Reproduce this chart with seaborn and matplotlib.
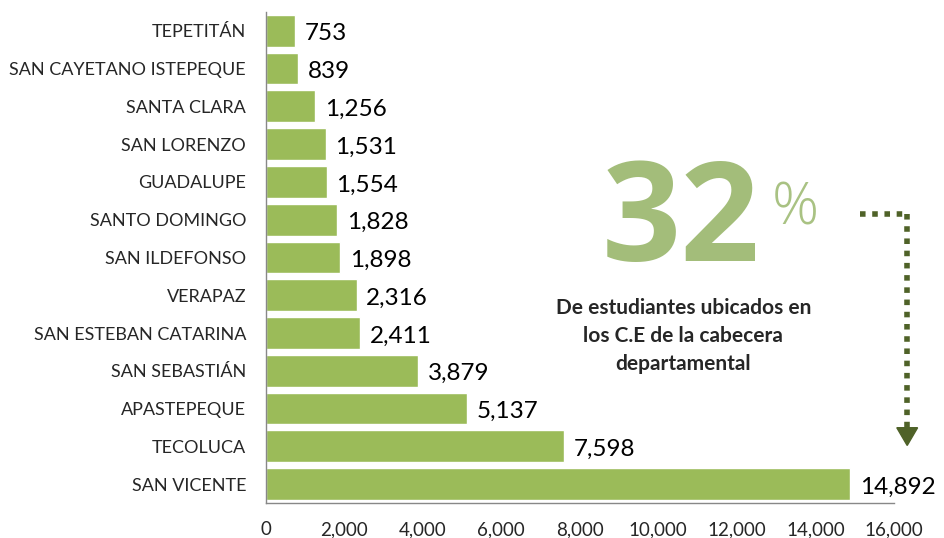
import numpy as np
import pandas as pd
import matplotlib.pyplot as plt
import seaborn as sns
from matplotlib.ticker import FuncFormatter, FixedLocator

# data
municipios = ['TEPETITÁN', 'SAN CAYETANO ISTEPEQUE', 'SANTA CLARA', 'SAN LORENZO',
              'GUADALUPE', 'SANTO DOMINGO', 'SAN ILDEFONSO', 'VERAPAZ',
              'SAN ESTEBAN CATARINA', 'SAN SEBASTIÁN', 'APASTEPEQUE', 'TECOLUCA',
              'SAN VICENTE']
estudiantes = [753, 839, 1256, 1531, 1554, 1828, 1898, 2316, 2411, 3879, 5137, 7598, 14892]
x_ticks = [0, 2000, 4000, 6000, 8000, 10000, 12000, 14000, 16000]

df = pd.DataFrame({'municipio': municipios, 'estudiantes': estudiantes})

sns.set_style('white')
plt.rcParams['font.family'] = ['Lato', 'DejaVu Sans']

fig = plt.figure(figsize=(9.45, 5.38), dpi=100)
ax = fig.add_axes([0.281, 0.065, 0.665, 0.913])

sns.barplot(data=df, x='estudiantes', y='municipio', order=municipios,
            color='#9BBB59', saturation=1, width=0.84,
            edgecolor='white', linewidth=1, ax=ax)

# value labels
for i, v in enumerate(estudiantes):
    ax.text(v + 250, i + 0.08, f'{v:,}', va='center', ha='left', fontsize=17.5, color='black')

ax.set_xlim(0, 16000)
ax.set_ylim(len(municipios) - 0.5, -0.5)
ax.xaxis.set_major_locator(FixedLocator(x_ticks))
ax.xaxis.set_major_formatter(FuncFormatter(lambda v, p: f'{int(v):,}'))
ax.set_xlabel('')
ax.set_ylabel('')
ax.tick_params(axis='x', labelsize=13.5, length=5, width=1, color='#888888', direction='out', pad=8)
ax.tick_params(axis='y', labelsize=13, length=0, pad=14)
ax.yaxis.set_minor_locator(FixedLocator(np.arange(-0.5, len(municipios), 1)))
ax.tick_params(axis='y', which='minor', length=5, width=1, color='#888888', direction='out')
for s in ['top', 'right']:
    ax.spines[s].set_visible(False)
for s in ['left', 'bottom']:
    ax.spines[s].set_color('#888888')
    ax.spines[s].set_linewidth(1)

# callout
fig.text(0.720, 0.582, '32', fontsize=100, fontweight='bold', color='#A3BD7A',
         family=['Open Sans', 'DejaVu Sans'], ha='center', va='center')
fig.text(0.842, 0.612, '%', fontsize=42, fontweight='light', color='#A9C283',
         family=['Open Sans', 'DejaVu Sans'], ha='center', va='center')
fig.text(0.723, 0.375, 'De estudiantes ubicados en\nlos C.E de la cabecera\ndepartamental',
         fontsize=15, fontweight='bold', ha='center', va='center', linespacing=1.5,
         family=['Lato', 'DejaVu Sans'])

# dotted arrow
arrow_c = '#4F6228'
fig.add_artist(plt.Line2D([0.910, 0.960], [0.602, 0.602], transform=fig.transFigure,
                          color=arrow_c, lw=4, linestyle=(0, (1, 1.2))))
fig.add_artist(plt.Line2D([0.960, 0.960], [0.602, 0.205], transform=fig.transFigure,
                          color=arrow_c, lw=4, linestyle=(0, (1, 1.2))))
fig.add_artist(plt.Polygon([[0.949, 0.205], [0.971, 0.205], [0.960, 0.172]],
                           closed=True, transform=fig.transFigure, color=arrow_c))

fig.savefig('out.png', dpi=100)
